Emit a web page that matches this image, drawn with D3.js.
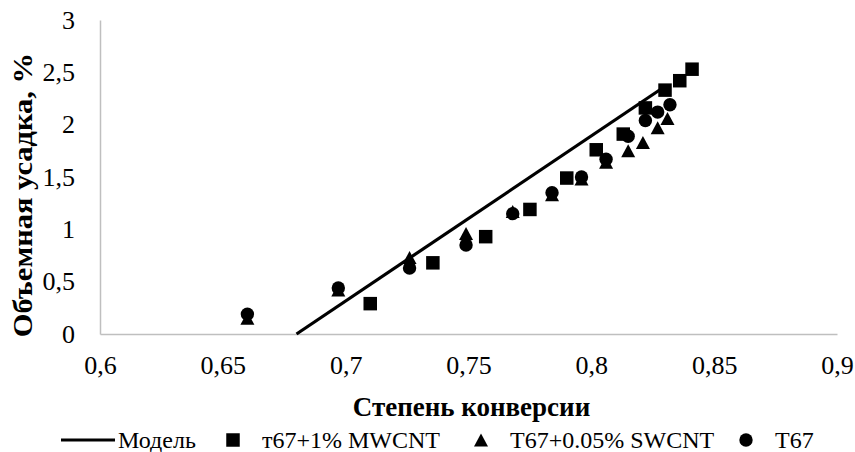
<!DOCTYPE html>
<html>
<head>
<meta charset="utf-8">
<script src="https://cdn.jsdelivr.net/npm/d3@7"></script>
<style>
  html, body { margin: 0; padding: 0; background: #fff; }
  svg { display: block; font-family: "Liberation Serif", "Times New Roman", serif; }
</style>
</head>
<body>
<svg id="chart" width="855" height="452"></svg>
<script>
// Volumetric shrinkage vs. degree of conversion
const xTicks = [0.6, 0.65, 0.7, 0.75, 0.8, 0.85, 0.9];
const xTickLabels = ["0,6", "0,65", "0,7", "0,75", "0,8", "0,85", "0,9"];
const yTicks = [0, 0.5, 1, 1.5, 2, 2.5, 3];
const yTickLabels = ["0", "0,5", "1", "1,5", "2", "2,5", "3"];

const seriesNames = ["Модель", "т67+1% MWCNT", "T67+0.05% SWCNT", "T67"];

// Model line
const modelX = [0.680, 0.829];
const modelY = [0, 2.35];

// т67+1% MWCNT
const mwcntX = [0.710, 0.7355, 0.757, 0.775, 0.790, 0.802, 0.813, 0.822, 0.830, 0.836, 0.841];
const mwcntY = [0.29, 0.68, 0.93, 1.19, 1.49, 1.76, 1.91, 2.16, 2.33, 2.42, 2.53];

// T67+0.05% SWCNT
const swcntX = [0.660, 0.697, 0.726, 0.749, 0.768, 0.784, 0.796, 0.806, 0.815, 0.821, 0.827, 0.831];
const swcntY = [0.15, 0.42, 0.73, 0.96, 1.17, 1.33, 1.48, 1.64, 1.75, 1.83, 1.97, 2.06];

// T67
const t67X = [0.660, 0.697, 0.726, 0.749, 0.768, 0.784, 0.796, 0.806, 0.815, 0.822, 0.827, 0.832];
const t67Y = [0.19, 0.44, 0.63, 0.85, 1.15, 1.35, 1.50, 1.67, 1.89, 2.04, 2.12, 2.19];

const svg = d3.select("#chart");
const plotLeft = 100, plotRight = 837, plotTop = 20, plotBottom = 334;

const x = d3.scaleLinear().domain([0.6, 0.9]).range([plotLeft, plotRight]);
const y = d3.scaleLinear().domain([0, 3]).range([plotBottom, plotTop]);

const axisColor = "#bfbfbf";
const tickFont = 26;

// Axes
const gx = svg.append("g").attr("transform", `translate(0,${plotBottom})`)
  .call(d3.axisBottom(x).tickValues(xTicks)
    .tickFormat((d, i) => xTickLabels[i]).tickSize(0).tickPadding(22));
const gy = svg.append("g").attr("transform", `translate(${plotLeft},0)`)
  .call(d3.axisLeft(y).tickValues(yTicks)
    .tickFormat((d, i) => yTickLabels[i]).tickSize(0).tickPadding(25));
[gx, gy].forEach(g => {
  g.attr("font-family", null);
  g.select(".domain").attr("stroke", axisColor).attr("stroke-width", 1.5);
  g.selectAll("text").attr("font-size", tickFont).attr("fill", "#000")
    .attr("font-family", "Liberation Serif");
});

// Marker shapes
const mSize = 14;
function squarePath(s) { const h = s / 2; return `M${-h},${-h}H${h}V${h}H${-h}Z`; }
function trianglePath(w, hgt) { return `M0,${-hgt / 2}L${w / 2},${hgt / 2}L${-w / 2},${hgt / 2}Z`; }
function circlePath(r) { return `M${r},0A${r},${r} 0 1,1 ${-r},0A${r},${r} 0 1,1 ${r},0Z`; }
const shapes = {
  square: squarePath(mSize - 0.5),
  triangle: trianglePath(mSize, mSize - 1),
  circle: circlePath(mSize / 2 - 0.3)
};

const plot = svg.append("g");

// Model line
plot.append("path")
  .datum(d3.zip(modelX, modelY))
  .attr("d", d3.line().x(d => x(d[0])).y(d => y(d[1])))
  .attr("fill", "none").attr("stroke", "#000").attr("stroke-width", 3.2);

function drawPoints(xs, ys, shape) {
  plot.append("g").selectAll("path")
    .data(d3.zip(xs, ys))
    .join("path")
    .attr("transform", d => `translate(${x(d[0])},${y(d[1])})`)
    .attr("d", shapes[shape])
    .attr("fill", "#000");
}
drawPoints(mwcntX, mwcntY, "square");
drawPoints(swcntX, swcntY, "triangle");
drawPoints(t67X, t67Y, "circle");

// Axis titles
svg.append("text")
  .attr("x", (plotLeft + plotRight) / 2 + 3).attr("y", 416)
  .attr("text-anchor", "middle").attr("font-weight", "bold").attr("font-size", 27)
  .text("Степень конверсии");
svg.append("text")
  .attr("transform", "translate(32,195) rotate(-90) scale(1.13,1)")
  .attr("text-anchor", "middle").attr("font-weight", "bold").attr("font-size", 27)
  .text("Объемная усадка, %");

// Legend
const legY = 440, legFont = 24;
const leg = svg.append("g").attr("font-size", legFont);
leg.append("line").attr("x1", 61).attr("x2", 115).attr("y1", legY).attr("y2", legY)
  .attr("stroke", "#000").attr("stroke-width", 3.2);
leg.append("text").attr("x", 118).attr("y", legY + 8).text(seriesNames[0]);

const legItems = [
  { shape: "square", mx: 233, tx: 262, name: seriesNames[1] },
  { shape: "triangle", mx: 481, tx: 510, name: seriesNames[2] },
  { shape: "circle", mx: 746, tx: 775, name: seriesNames[3] }
];
legItems.forEach(it => {
  leg.append("path").attr("transform", `translate(${it.mx},${legY})`)
    .attr("d", shapes[it.shape]).attr("fill", "#000");
  leg.append("text").attr("x", it.tx).attr("y", legY + 8).text(it.name);
});
</script>
</body>
</html>
